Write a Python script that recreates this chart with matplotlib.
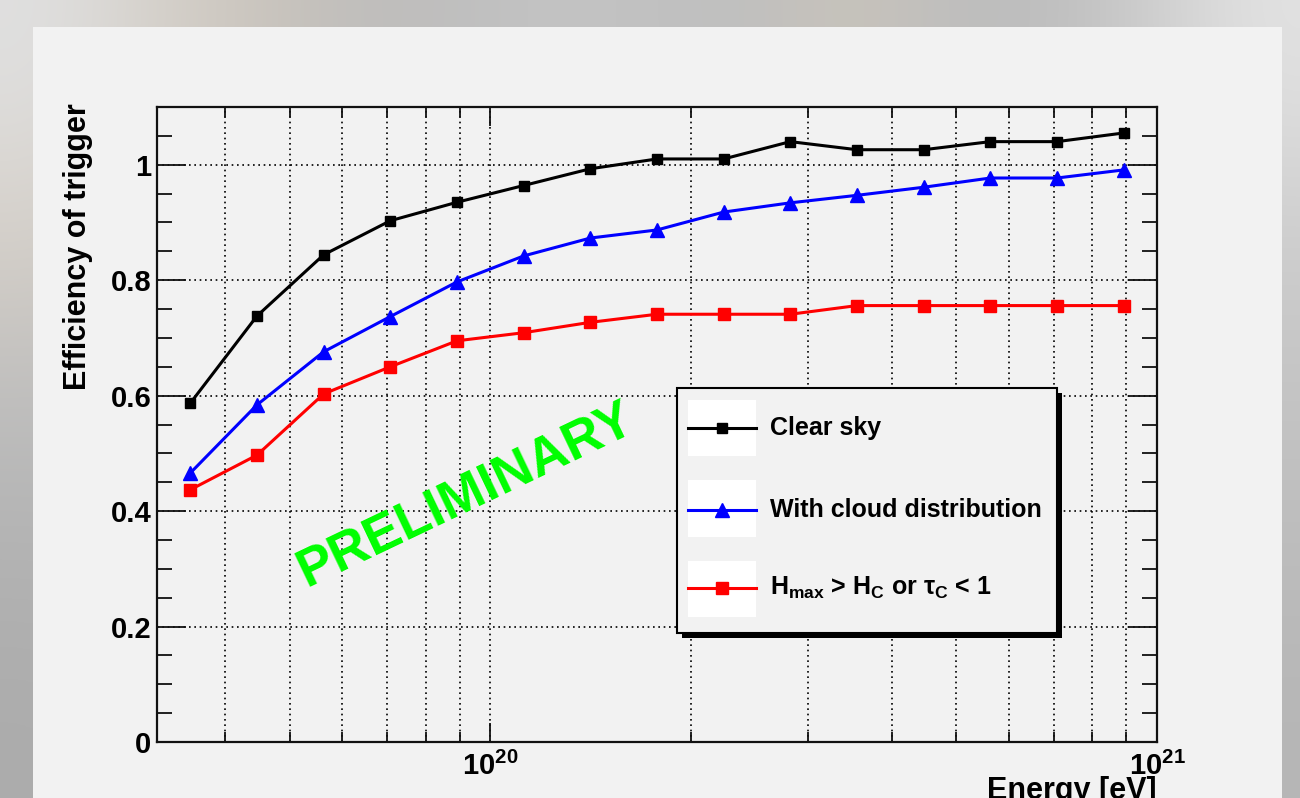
import numpy as np
import matplotlib
matplotlib.use("Agg")
import matplotlib.pyplot as plt
from matplotlib.patches import Rectangle
from matplotlib.lines import Line2D
from matplotlib.ticker import FixedLocator, NullFormatter, LogLocator

plt.rcParams["font.family"] = ["Liberation Sans", "DejaVu Sans"]
plt.rcParams["font.weight"] = "bold"
plt.rcParams["mathtext.fontset"] = "custom"
plt.rcParams["mathtext.rm"] = "Liberation Sans:bold"
plt.rcParams["mathtext.bf"] = "Liberation Sans:bold"
plt.rcParams["mathtext.it"] = "Liberation Sans:bold"
plt.rcParams["mathtext.default"] = "bf"

# ---- data -------------------------------------------------------------
log_energy = [19.55, 19.65, 19.75, 19.85, 19.95, 20.05, 20.15, 20.25,
              20.35, 20.45, 20.55, 20.65, 20.75, 20.85, 20.95]
eff_clear_sky = [0.587, 0.738, 0.844, 0.903, 0.935, 0.964, 0.993, 1.010,
                 1.010, 1.040, 1.026, 1.026, 1.040, 1.040, 1.055]
eff_cloud = [0.466, 0.584, 0.676, 0.737, 0.797, 0.842, 0.873, 0.887,
             0.918, 0.934, 0.947, 0.961, 0.977, 0.977, 0.991]
eff_hmax = [0.437, 0.497, 0.603, 0.650, 0.695, 0.709, 0.727, 0.741,
            0.741, 0.741, 0.756, 0.756, 0.756, 0.756, 0.756]

series_labels = ["Clear sky", "With cloud distribution",
                 r"H$_{max}$ > H$_{C}$ or $\tau_{C}$ < 1"]
y_ticks = [0, 0.2, 0.4, 0.6, 0.8, 1.0]
y_tick_labels = ["0", "0.2", "0.4", "0.6", "0.8", "1"]
x_ticks = [1e20, 1e21]
x_tick_labels = [r"$10^{20}$", r"$10^{21}$"]

energy = 10 ** np.array(log_energy)

# ---- figure & background ---------------------------------------------
W, H = 1300, 798
fig = plt.figure(figsize=(W / 100, H / 100), dpi=100)


def fx(x):
    return x / W


def fy(y):
    return 1 - y / H


bg = fig.add_axes([0, 0, 1, 1], zorder=-10)
bg.set_xlim(0, W)
bg.set_ylim(H, 0)
bg.axis("off")

# soft grey surround (rows top->bottom, columns left->right)
surround = np.array([
    [[224, 224, 224], [214, 210, 204], [204, 198, 190], [192, 190, 187],
     [190, 190, 190], [196, 196, 196], [193, 193, 193], [191, 191, 191],
     [202, 196, 186], [190, 190, 190], [189, 189, 189], [206, 206, 206],
     [226, 226, 226]],
    [[214, 208, 200], [205, 200, 194], [198, 196, 192], [194, 194, 194],
     [194, 194, 194], [194, 194, 194], [194, 194, 194], [194, 194, 194],
     [194, 194, 194], [194, 194, 194], [196, 196, 196], [204, 204, 204],
     [205, 205, 205]],
    [[190, 190, 190], [190, 190, 190], [192, 192, 192], [194, 194, 194],
     [194, 194, 194], [194, 194, 194], [194, 194, 194], [194, 194, 194],
     [194, 194, 194], [194, 194, 194], [194, 194, 194], [196, 196, 196],
     [196, 196, 196]],
    [[178, 178, 178], [180, 180, 180], [186, 186, 186], [190, 190, 190],
     [190, 190, 190], [190, 190, 190], [190, 190, 190], [190, 190, 190],
     [190, 190, 190], [190, 190, 190], [190, 190, 190], [188, 188, 188],
     [188, 188, 188]],
    [[172, 172, 172], [174, 174, 174], [180, 180, 180], [186, 186, 186],
     [186, 186, 186], [186, 186, 186], [186, 186, 186], [186, 186, 186],
     [186, 186, 186], [186, 186, 186], [186, 186, 186], [184, 184, 184],
     [182, 182, 182]],
], dtype=float) / 255.0
bg.imshow(surround, extent=[0, W, H, 0], aspect="auto",
          interpolation="bicubic", zorder=0)
bg.add_patch(Rectangle((33, 27), 1282 - 33, H - 27, facecolor="#f2f2f2",
                       edgecolor="none", zorder=1))

# ---- main axes --------------------------------------------------------
ax_l, ax_r, ax_t, ax_b = 157, 1157, 107, 742
ax = fig.add_axes([fx(ax_l), fy(ax_b), (ax_r - ax_l) / W, (ax_b - ax_t) / H])
ax.set_facecolor("none")
ax.set_xscale("log")
ax.set_xlim(10 ** 19.5, 1e21)
ax.set_ylim(0, 1.1)

for s in ax.spines.values():
    s.set_linewidth(1.6)
    s.set_color("#111111")

ax.xaxis.set_major_locator(FixedLocator(x_ticks))
ax.xaxis.set_minor_locator(LogLocator(base=10, subs=np.arange(2, 10)))
ax.xaxis.set_minor_formatter(NullFormatter())
ax.set_xticklabels(x_tick_labels)
ax.set_yticks(y_ticks)
ax.set_yticklabels(y_tick_labels)
ax.yaxis.set_minor_locator(FixedLocator(np.arange(0.05, 1.1, 0.05)))

ax.tick_params(axis="both", which="both", direction="in", top=True,
               right=True, color="#111111", width=1.3)
ax.tick_params(axis="x", which="major", length=14, pad=7, labelsize=21)
ax.tick_params(axis="x", which="minor", length=7)
ax.tick_params(axis="y", which="major", length=21, pad=4, labelsize=21)
ax.tick_params(axis="y", which="minor", length=10.5)

grid_style = dict(color="black", linestyle=(0, (1, 2.2)), linewidth=1.2)
ax.grid(True, which="major", axis="y", **grid_style)
ax.grid(True, which="both", axis="x", **grid_style)
ax.set_axisbelow(True)

ax.plot(energy, eff_clear_sky, color="black", lw=2.2, marker="s", ms=6.5,
        zorder=3)
ax.plot(energy, eff_cloud, color="#0000ff", lw=2.2, marker="^", ms=9.5,
        zorder=3)
ax.plot(energy, eff_hmax, color="#ff0000", lw=2.2, marker="s", ms=8,
        zorder=3)

# axis titles
fig.text(fx(78), fy(103), "Efficiency of trigger", rotation=90,
         ha="center", va="top", fontsize=22, fontweight="bold")
fig.text(fx(1157), fy(776), "Energy [eV]", ha="right", va="top",
         fontsize=22, fontweight="bold")

# watermark
fig.text(fx(466), fy(495), "PRELIMINARY", rotation=25.5,
         rotation_mode="anchor", ha="center", va="center", fontsize=38.5,
         fontweight="bold", color="#00ff00")

# ---- legend box -------------------------------------------------------
lg_l, lg_r, lg_t, lg_b = 677, 1057, 388, 633
fig.patches.append(Rectangle((fx(lg_l + 5), fy(lg_b + 5)),
                             (lg_r - lg_l) / W, (lg_b - lg_t) / H,
                             transform=fig.transFigure, facecolor="black",
                             edgecolor="none", zorder=5))
fig.patches.append(Rectangle((fx(lg_l), fy(lg_b)),
                             (lg_r - lg_l) / W, (lg_b - lg_t) / H,
                             transform=fig.transFigure, facecolor="#f2f2f2",
                             edgecolor="black", linewidth=1.5, zorder=6))

entry_rows = [(400, 456, 428), (480, 537, 510), (561, 617, 588)]
entry_styles = [
    dict(color="black", marker="s", ms=6.5),
    dict(color="#0000ff", marker="^", ms=9.5),
    dict(color="#ff0000", marker="s", ms=8),
]
for (top, bot, mid), style, label in zip(entry_rows, entry_styles,
                                          series_labels):
    fig.patches.append(Rectangle((fx(688), fy(bot)), 68 / W, (bot - top) / H,
                                 transform=fig.transFigure,
                                 facecolor="white", edgecolor="none",
                                 zorder=7))
    fig.lines.append(Line2D([fx(688), fx(756)], [fy(mid), fy(mid)],
                            transform=fig.transFigure, lw=2.2,
                            color=style["color"], zorder=8))
    fig.lines.append(Line2D([fx(722)], [fy(mid)], transform=fig.transFigure,
                            linestyle="none", marker=style["marker"],
                            ms=style["ms"], color=style["color"], zorder=9))
    fig.text(fx(770), fy(mid), label, ha="left", va="center", fontsize=18,
             fontweight="bold", zorder=10)

fig.savefig("out.png", dpi=100)
